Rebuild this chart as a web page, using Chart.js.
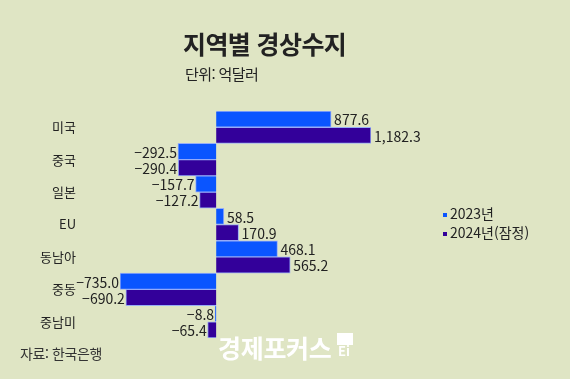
<!DOCTYPE html>
<html lang="ko">
<head>
<meta charset="utf-8">
<script src="https://cdn.jsdelivr.net/npm/chart.js@4"></script>
<style>
  html, body { margin: 0; padding: 0; }
  body { background: #dfe5c4; font-family: "Noto Sans CJK KR", "Noto Sans", sans-serif; color: #222; }
  #wrap { position: relative; width: 570px; height: 379px; overflow: hidden; }
  #wrap canvas { position: absolute; left: 0; top: 0; }
  .txt { position: absolute; white-space: nowrap; line-height: 1; }
  #title { left: 183px; top: 31px; font-size: 25px; font-weight: 700; letter-spacing: -0.6px; color: #222; }
  #unit { left: 185px; top: 66px; font-size: 15px; letter-spacing: -0.6px; color: #222; }
  #source { left: 20px; top: 346px; font-size: 14px; letter-spacing: -0.4px; color: #333; }
  #mark { left: 218px; top: 335px; font-size: 25px; font-weight: 700; color: #fff; letter-spacing: -0.3px; }
  #logo { position: absolute; left: 337px; top: 333px; width: 16px; height: 12px; background: #fff; }
  #logo2 { left: 338px; top: 344px; font-size: 13px; font-weight: 700; color: #fff; }
  #legend { position: absolute; left: 443px; top: 204px; font-size: 14px; color: #222; }
  #legend div { height: 19px; line-height: 19px; white-space: nowrap; }
  #legend i { display: inline-block; width: 4px; height: 4px; margin-right: 3px; vertical-align: middle; }
</style>
</head>
<body>
<div id="wrap">
  <canvas id="chart"></canvas>
  <div class="txt" id="title">지역별 경상수지</div>
  <div class="txt" id="unit">단위: 억달러</div>
  <div class="txt" id="source">자료: 한국은행</div>
  <div class="txt" id="mark">경제포커스</div>
  <div id="logo"></div>
  <div class="txt" id="logo2">Ei</div>
  <div id="legend"></div>
</div>
<script>
const regions = ['미국', '중국', '일본', 'EU', '동남아', '중동', '중남미'];
const values2023 = [877.6, -292.5, -157.7, 58.5, 468.1, -735.0, -8.8];
const values2024 = [1182.3, -290.4, -127.2, 170.9, 565.2, -690.2, -65.4];
const seriesNames = ['2023년', '2024년(잠정)'];

const FONT = '"Noto Sans CJK KR", "Noto Sans", sans-serif';
const colors = ['#0a55ff', '#33009a'];

const fmt = v => {
  const s = Math.abs(v).toLocaleString('en-US', { minimumFractionDigits: 1, maximumFractionDigits: 1 });
  return v < 0 ? '\u2212' + s : s;
};

// value labels at the end of each bar
const valueLabels = {
  id: 'valueLabels',
  afterDatasetsDraw(chart) {
    const { ctx } = chart;
    ctx.save();
    ctx.font = '14px ' + FONT;
    ctx.fillStyle = '#222';
    ctx.textBaseline = 'middle';
    chart.data.datasets.forEach((ds, i) => {
      chart.getDatasetMeta(i).data.forEach((bar, j) => {
        const v = ds.data[j];
        if (v < 0) {
          ctx.textAlign = 'right';
          ctx.fillText(fmt(v), bar.x - 1, bar.y + 1);
        } else {
          ctx.textAlign = 'left';
          ctx.fillText(fmt(v), bar.x + 3, bar.y + 1);
        }
      });
    });
    ctx.restore();
  }
};

const chart = new Chart(document.getElementById('chart'), {
  type: 'bar',
  data: {
    labels: regions,
    datasets: [
      { label: seriesNames[0], data: values2023, backgroundColor: colors[0] },
      { label: seriesNames[1], data: values2024, backgroundColor: colors[1] },
    ],
  },
  options: {
    indexAxis: 'y',
    responsive: true,
    maintainAspectRatio: false,
    animation: false,
    datasets: {
      bar: {
        categoryPercentage: 1, barPercentage: 1,
        borderWidth: 1, borderColor: 'rgba(140,165,255,0.85)',
      },
    },
    layout: { padding: { top: 111, bottom: 41, left: 0, right: 199 } },
    plugins: { legend: { display: false }, tooltip: { enabled: false } },
    scales: {
      x: { display: false, min: -735, max: 1182.3 },
      y: {
        // tick length only used as label offset, grid itself hidden
        grid: { display: false, drawTicks: true, tickLength: 42 },
        border: { display: false },
        afterFit: s => { s.width = 120; },
        ticks: { color: '#222', font: { family: FONT, size: 13 }, padding: 2, crossAlign: 'near' },
      },
    },
  },
  plugins: [valueLabels],
});

// html legend from the chart's own datasets
document.getElementById('legend').innerHTML = chart.data.datasets
  .map(ds => `<div><i style="background:${ds.backgroundColor}"></i>${ds.label}</div>`)
  .join('');
</script>
</body>
</html>
